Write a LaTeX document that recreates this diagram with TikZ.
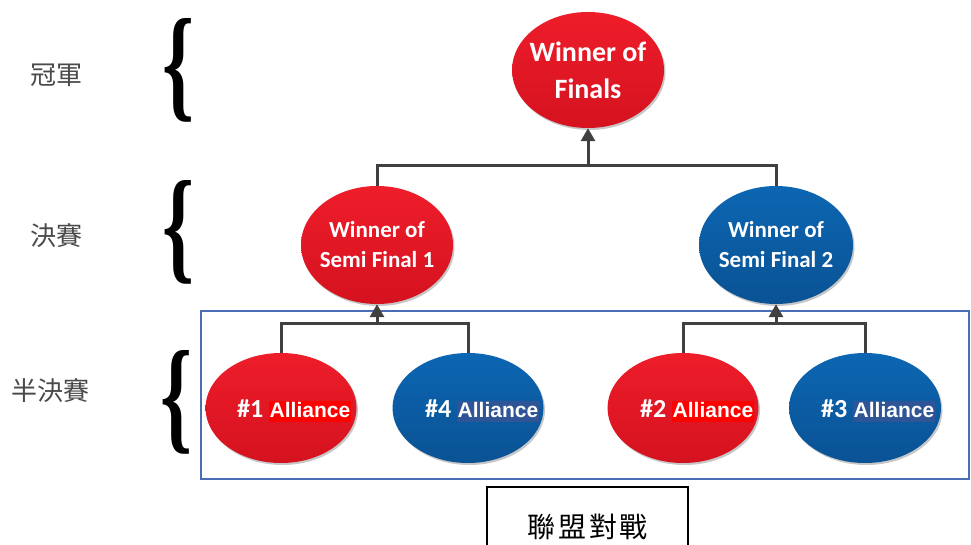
\documentclass[tikz,border=0pt]{standalone}
\usepackage{fontspec}
\usepackage{graphicx}
\setmainfont{Carlito}
\newfontfamily\arialb{Liberation Sans}
\newfontfamily\bracefont{Liberation Serif}
\newfontfamily\cjk{Noto Sans CJK TC}
\usetikzlibrary{shapes.geometric,arrows.meta,shadows}
\definecolor{redtop}{HTML}{EE1D2A}
\definecolor{redbot}{HTML}{D5121F}
\definecolor{bluetop}{HTML}{0C66B2}
\definecolor{bluebot}{HTML}{0A5294}
\definecolor{hlred}{HTML}{FF0000}
\definecolor{hlblue}{HTML}{2F5597}
\definecolor{conncol}{HTML}{404040}
\definecolor{boxblue}{HTML}{4A6EB5}
\definecolor{lblgray}{HTML}{4A4A4A}
\newcommand{\hlbox}[2]{{\setlength{\fboxsep}{0.5pt}\colorbox{#1}{\arialb\fontsize{21}{24}\selectfont\bfseries\rule[-4pt]{0pt}{20pt}#2}}}
\newcommand{\bigbrace}{\resizebox{32pt}{87pt}{\bracefont\bfseries\{}}
\tikzset{
  oval/.style={ellipse, inner sep=0pt, draw=none,
    drop shadow={shadow xshift=1.5pt, shadow yshift=-2pt, fill=black, opacity=0.22}},
  redoval/.style={oval, top color=redtop, bottom color=redbot},
  blueoval/.style={oval, top color=bluetop, bottom color=bluebot},
  bigtxt/.style={text=white, align=center, font=\fontsize{28}{37}\selectfont\bfseries},
  midtxt/.style={text=white, align=center, font=\fontsize{23}{30}\selectfont\bfseries},
  teamtxt/.style={text=white, anchor=base, inner sep=0pt, font=\fontsize{26}{30}\selectfont\bfseries},
  conn/.style={draw=conncol, line width=3pt},
  arr/.style={conn, -{Triangle[width=14pt,length=13pt]}},
  bracenode/.style={inner sep=0pt, text=black},
  sidelbl/.style={text=lblgray, font=\cjk\fontsize{26}{30}\selectfont}
}
\begin{document}
\begin{tikzpicture}[x=1pt,y=1pt]
\useasboundingbox (0,0) rectangle (971,-545);
\fill[white] (0,0) rectangle (971,-545);

% frame around semifinal row
\node[draw=boxblue, line width=1.5pt, minimum width=768pt, minimum height=168pt, inner sep=0pt] (frame) at (585,-395) {};

% ovals
\node[redoval, minimum width=152pt, minimum height=116pt] (f) at (588,-70) {};
\node[redoval, minimum width=152pt, minimum height=118pt] (s1) at (377,-245) {};
\node[blueoval, minimum width=154pt, minimum height=118pt] (s2) at (776,-245) {};
\node[redoval, minimum width=151pt, minimum height=110pt] (a1) at (281,-408) {};
\node[blueoval, minimum width=151pt, minimum height=110pt] (a4) at (468,-408) {};
\node[redoval, minimum width=151pt, minimum height=110pt] (a2) at (683,-408) {};
\node[blueoval, minimum width=152pt, minimum height=110pt] (a3) at (865,-408) {};

% texts
\node[bigtxt] (ft) at (f.center) {Winner of\\Finals};
\node[midtxt] (s1t) at (s1.center) {Winner of\\Semi Final 1};
\node[midtxt] (s2t) at (s2.center) {Winner of\\Semi Final 2};
\node[teamtxt] (a1t) at ([xshift=13pt,yshift=-9pt]a1.center) {\#1 \hlbox{hlred}{Alliance}};
\node[teamtxt] (a4t) at ([xshift=14pt,yshift=-9pt]a4.center) {\#4 \hlbox{hlblue}{Alliance}};
\node[teamtxt] (a2t) at ([xshift=14pt,yshift=-9pt]a2.center) {\#2 \hlbox{hlred}{Alliance}};
\node[teamtxt] (a3t) at ([xshift=13pt,yshift=-9pt]a3.center) {\#3 \hlbox{hlblue}{Alliance}};

% connectors
\coordinate (j0) at (588,-166);
\coordinate (j1) at (377,-323);
\coordinate (j2) at (776,-323);
\draw[conn] (s1.north) |- (j0) -| (s2.north);
\draw[arr] (j0) -- (f.south);
\draw[conn] (a1.north) |- (j1) -| (a4.north);
\draw[arr] (j1) -- (s1.south);
\draw[conn] (a2.north) |- (j2) -| (a3.north);
\draw[arr] (j2) -- (s2.south);

% side labels and braces
\node[sidelbl] (l1) at (56,-75) {冠軍};
\node[sidelbl] (l2) at (56,-236) {決賽};
\node[sidelbl] (l3) at (50,-391) {半決賽};
\node[bracenode] (b1) at (179,-70) {\bigbrace};
\node[bracenode] (b2) at (179,-232) {\bigbrace};
\node[bracenode] (b3) at (177,-402) {\bigbrace};

% bottom caption box
\node[draw=black, line width=2pt, minimum width=201pt, minimum height=80pt, inner sep=0pt,
      font=\cjk\fontsize{28}{32}\selectfont] (cap) at (587.5,-527) {聯\hspace{3pt}盟\hspace{3pt}對\hspace{3pt}戰};
\end{tikzpicture}
\end{document}
